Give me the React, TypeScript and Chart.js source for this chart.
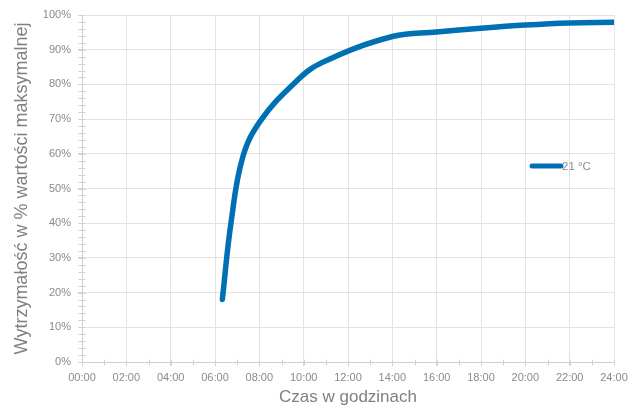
import React, { useEffect, useRef } from "react";
import { Chart, registerables } from "chart.js";

Chart.register(...registerables);

const hours = [6.33, 6.72, 7.25, 8.05, 9.6, 10.8, 14.0, 16.0, 18.0, 20.0, 22.0, 24.0];
const strength = [18, 40, 59, 69.5, 80.5, 86.2, 93.8, 95.1, 96.2, 97.1, 97.7, 97.9];
const seriesLabel = "21 °C";
const xTitle = "Czas w godzinach";
const yTitle = "Wytrzymałość w % wartości maksymalnej";
const minorHourTicks = Array.from({ length: 25 }, (_, i) => i);
const minorPercentTicks = Array.from({ length: 51 }, (_, i) => i * 2);

const FONT = "'Liberation Sans', Arial, sans-serif";
const BLUE = "#0070b4";

const minorTicksPlugin = {
  id: "minorTicks",
  beforeDatasetsDraw(chart: any) {
    const { ctx, scales } = chart;
    const x = scales.x;
    const y = scales.y;
    ctx.save();
    ctx.strokeStyle = "#d2d2d2";
    ctx.lineWidth = 1;
    const yAxis = Math.round(y.getPixelForValue(0)) + 0.5;
    minorHourTicks.forEach((h) => {
      const px = Math.round(x.getPixelForValue(h)) + 0.5;
      ctx.beginPath();
      ctx.moveTo(px, yAxis - 3);
      ctx.lineTo(px, yAxis + 3);
      ctx.stroke();
    });
    const xAxis = Math.round(x.getPixelForValue(0)) + 0.5;
    minorPercentTicks.forEach((p) => {
      const py = Math.round(y.getPixelForValue(p)) + 0.5;
      ctx.beginPath();
      ctx.moveTo(xAxis - 4, py);
      ctx.lineTo(xAxis + 3, py);
      ctx.stroke();
    });
    ctx.restore();
  },
};

const insideLegendPlugin = {
  id: "insideLegend",
  afterDatasetsDraw(chart: any) {
    const { ctx, chartArea } = chart;
    const x0 = chartArea.right - 82;
    const x1 = chartArea.right - 53;
    const yy = 166;
    ctx.save();
    ctx.strokeStyle = BLUE;
    ctx.lineWidth = 5;
    ctx.lineCap = "round";
    ctx.beginPath();
    ctx.moveTo(x0, yy);
    ctx.lineTo(x1, yy);
    ctx.stroke();
    ctx.fillStyle = "#8a8a8a";
    ctx.font = `11.5px ${FONT}`;
    ctx.textBaseline = "middle";
    ctx.textAlign = "left";
    ctx.fillText(chart.data.datasets[0].label, x1 + 1, yy + 0.5);
    ctx.restore();
  },
};

export default function App() {
  const ref = useRef<HTMLCanvasElement | null>(null);

  useEffect(() => {
    document.body.style.margin = "0";
    if (!ref.current) return;
    const chart = new Chart(ref.current, {
      type: "line",
      data: {
        datasets: [
          {
            label: seriesLabel,
            data: hours.map((h, i) => ({ x: h, y: strength[i] })),
            borderColor: BLUE,
            backgroundColor: BLUE,
            borderWidth: 5.5,
            borderCapStyle: "round",
            borderJoinStyle: "round",
            pointRadius: 0,
            tension: 0.4,
            fill: false,
          },
        ],
      },
      options: {
        animation: false,
        responsive: true,
        maintainAspectRatio: false,
        layout: { padding: { top: 15, right: 30, bottom: 0, left: 0 } },
        plugins: {
          legend: { display: false },
          tooltip: { enabled: false },
        },
        scales: {
          x: {
            type: "linear",
            min: 0,
            max: 24,
            afterFit(scale: any) {
              scale.height = 51;
            },
            ticks: {
              stepSize: 2,
              color: "#8a8a8a",
              font: { family: FONT, size: 11 },
              padding: 5,
              maxRotation: 0,
              autoSkip: false,
              callback: (v: any) => `${String(v).padStart(2, "0")}:00`,
            },
            grid: {
              color: "#e3e3e3",
              tickColor: "#d2d2d2",
              tickLength: 4,
              drawTicks: true,
            },
            border: { color: "#cfcfcf" },
            title: {
              display: true,
              text: xTitle,
              color: "#808080",
              font: { family: FONT, size: 17 },
              padding: { top: 0, bottom: 5 },
            },
          },
          y: {
            type: "linear",
            min: 0,
            max: 100,
            afterFit(scale: any) {
              scale.width = 82;
            },
            ticks: {
              stepSize: 10,
              color: "#8a8a8a",
              font: { family: FONT, size: 11 },
              padding: 7,
              callback: (v: any) => `${v}%`,
            },
            grid: {
              color: "#e3e3e3",
              tickColor: "#d2d2d2",
              tickLength: 4,
              drawTicks: true,
            },
            border: { color: "#cfcfcf" },
            title: {
              display: true,
              text: yTitle,
              color: "#808080",
              font: { family: FONT, size: 18 },
              padding: { top: 11, bottom: 0 },
            },
          },
        },
      },
      plugins: [minorTicksPlugin, insideLegendPlugin],
    } as any);
    return () => chart.destroy();
  }, []);

  return (
    <div style={{ width: 644, height: 413, position: "relative" }}>
      <canvas ref={ref} />
    </div>
  );
}
